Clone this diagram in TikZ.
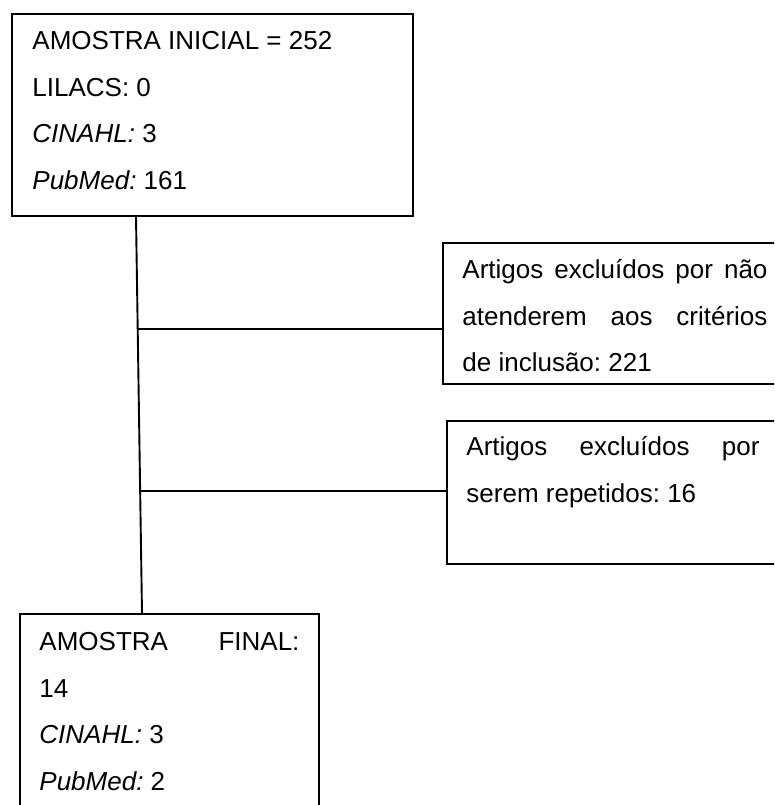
\documentclass[tikz,border=0pt]{standalone}
\usepackage{fontspec}
\setmainfont{Liberation Sans}
\frenchspacing
\usetikzlibrary{calc}
\tikzset{
    caixa/.style = {draw, line width=1.9pt, anchor=north west, inner xsep=19.5pt, inner ysep=0pt,
                    align=justify, font=\fontsize{26}{46.5}\selectfont},
    ligacao/.style = {line width=1.9pt}
}
\begin{document}
\begin{tikzpicture}[x=1pt,y=-1pt]
    \useasboundingbox (0,0) rectangle (774,805);
    \clip (0,0) rectangle (774,805);

    %% amostra inicial
    \node[caixa, inner xsep=20.5pt, text width=360pt, text height=36pt, text depth=166pt] (inicial) at (11,13)
        {AMOSTRA INICIAL = 252\\ LILACS: 0\\ {\itshape CINAHL:} 3\\ {\itshape PubMed:} 161};

    %% exclusoes
    \node[caixa, text width=305pt, text height=36pt, text depth=105pt] (excl1) at (442,242)
        {Artigos excluídos por não\linebreak atenderem aos critérios\linebreak de inclusão: 221};
    \node[caixa, text width=293pt, text height=35pt, text depth=108pt] (excl2) at (446,420)
        {Artigos excluídos por\linebreak serem repetidos: 16};

    %% amostra final
    \node[caixa, text width=260pt, text height=37pt, text depth=200pt] (final) at (19,613)
        {AMOSTRA FINAL:\linebreak 14\\ {\itshape CINAHL:} 3\\ {\itshape PubMed:} 2};

    %% linhas
    \coordinate (topo) at ($(inicial.south west)+(125,0)$);
    \coordinate (base) at ($(final.north west)+(123,0)$);
    \coordinate (ramo1) at ($(topo)!0.284!(base)$);
    \coordinate (ramo2) at ($(topo)!0.691!(base)$);

    \draw[ligacao] (topo) -- (base);
    \draw[ligacao] (ramo1) -- (ramo1 -| excl1.west);
    \draw[ligacao] (ramo2) -- (ramo2 -| excl2.west);
\end{tikzpicture}
\end{document}
